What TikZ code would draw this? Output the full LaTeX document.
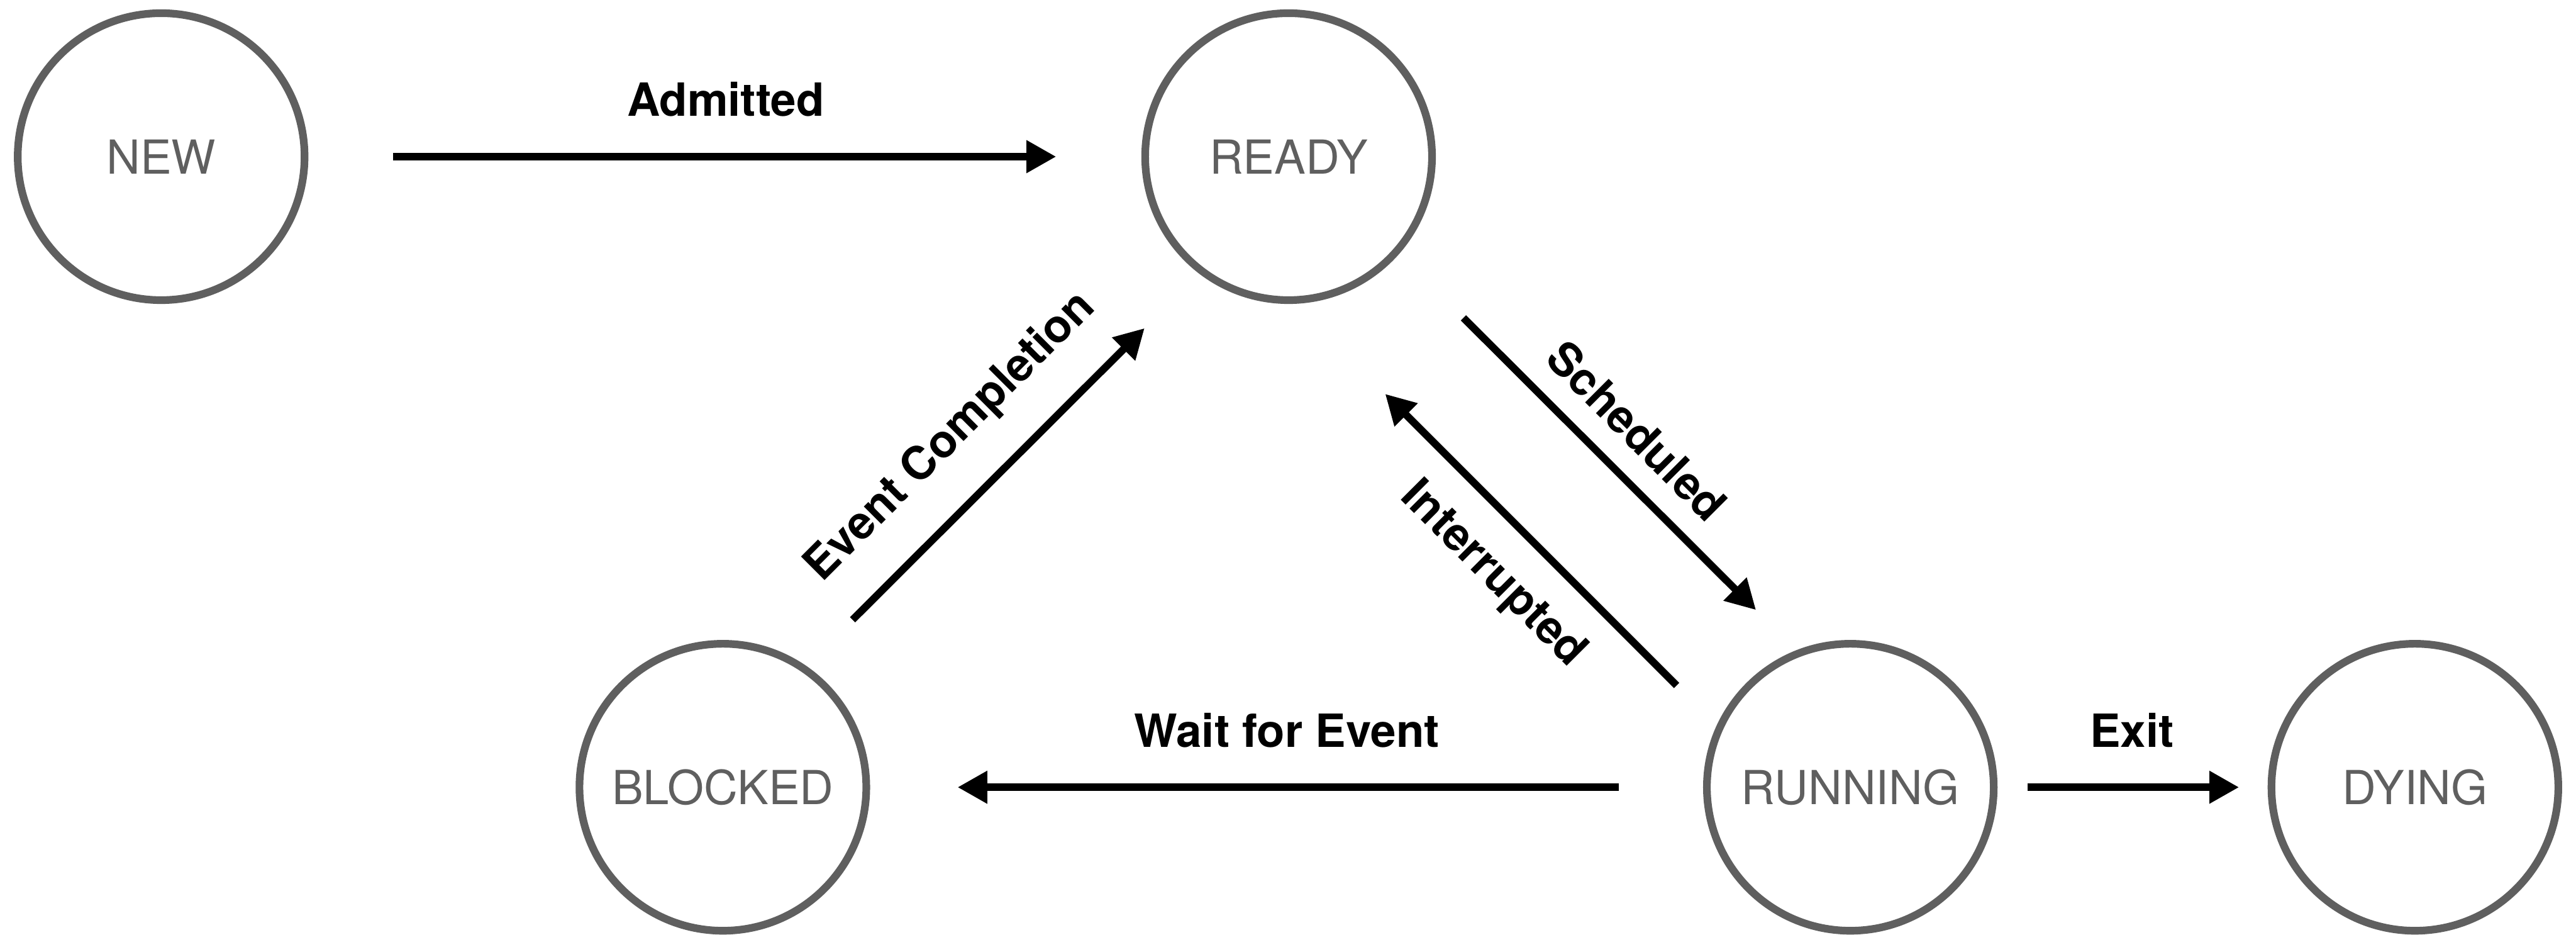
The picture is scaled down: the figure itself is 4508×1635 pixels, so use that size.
\documentclass[tikz,border=0pt]{standalone}
\usepackage{fontspec}
\setmainfont{TeX Gyre Heros}
\usetikzlibrary{arrows.meta}
\definecolor{stategray}{RGB}{95,95,95}
\tikzset{
  state/.style={circle, draw=stategray, line width=1.34pt, minimum size=50.2pt, inner sep=0pt,
    text=stategray, font=\fontsize{8.2pt}{9pt}\selectfont},
  conn/.style={line width=1.3pt, -{Triangle[length=5.2pt,width=5.4pt]}},
  lbl/.style={font=\fontsize{8pt}{9pt}\selectfont\bfseries, inner sep=0pt, anchor=base}
}
\begin{document}
\begin{tikzpicture}[x=0.1pt,y=-0.1pt]
\useasboundingbox (0,0) rectangle (4508,1635);
\node[state] (new) at (282,274) {NEW};
\node[state] (ready) at (2255,274) {READY};
\node[state] (blocked) at (1265,1377) {BLOCKED};
\node[state] (running) at (3238,1377) {RUNNING};
\node[state] (dying) at (4226,1377) {DYING};

\draw[conn, shorten <=14.8pt, shorten >=14.9pt] (new) -- (ready);
\node[lbl] (ladm) at (1270,203) {Admitted};

\draw[conn, shorten <=14.7pt, shorten >=15.3pt] (running) -- (blocked);
\node[lbl] (lwait) at (2252,1307) {Wait for Event};

\draw[conn, shorten <=5.2pt, shorten >=5.0pt] (running) -- (dying);
\node[lbl] (lexit) at (3731,1307) {Exit};

\coordinate (ecs) at (1492,1084);
\coordinate (ece) at (2003,574);
\draw[conn] (ecs) -- (ece);
\node[lbl, rotate=45] (lec) at (1679,780) {Event Completion};

\coordinate (scs) at (2561,556);
\coordinate (sce) at (3073,1067);
\draw[conn] (scs) -- (sce);
\node[lbl, rotate=-45] (lsc) at (2844,774) {Scheduled};

\coordinate (ins) at (2934,1199);
\coordinate (ine) at (2424,689);
\draw[conn] (ins) -- (ine);
\node[lbl, rotate=-45] (lin) at (2597,1020) {Interrupted};
\end{tikzpicture}
\end{document}
